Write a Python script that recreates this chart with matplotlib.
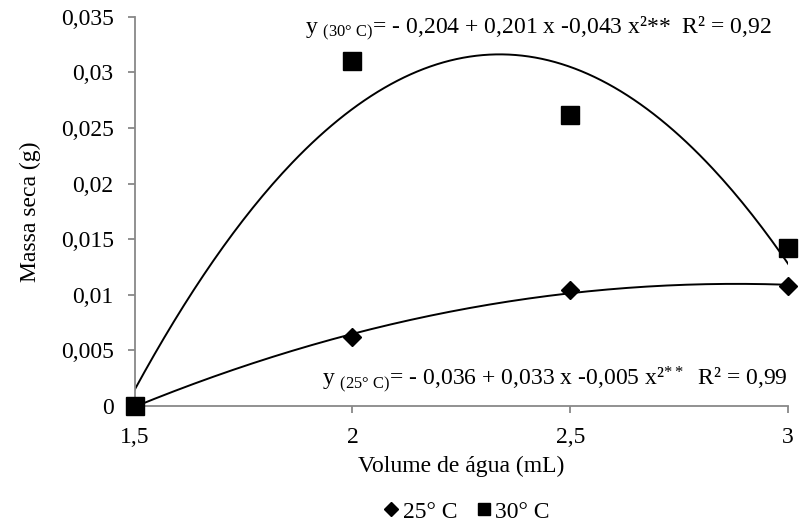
import numpy as np
import matplotlib
matplotlib.use('Agg')
import matplotlib.pyplot as plt
from matplotlib.lines import Line2D

plt.rcParams['font.family'] = ['Liberation Serif', 'DejaVu Serif']
plt.rcParams['mathtext.fontset'] = 'custom'
plt.rcParams['mathtext.rm'] = 'Liberation Serif'
plt.rcParams['mathtext.it'] = 'Liberation Serif:italic'

# Data
volume = [1.5, 2.0, 2.5, 3.0]
massa_25 = [0.0, 0.0062, 0.0104, 0.0108]
massa_30 = [0.0, 0.0310, 0.0262, 0.0142]
x_ticks = [1.5, 2.0, 2.5, 3.0]
x_labels = ['1,5', '2', '2,5', '3']
y_ticks = [0, 0.005, 0.01, 0.015, 0.02, 0.025, 0.03, 0.035]
y_labels = ['0', '0,005', '0,01', '0,015', '0,02', '0,025', '0,03', '0,035']

FS = 17

fig, ax = plt.subplots(figsize=(8.01, 5.25), dpi=100)
fig.subplots_adjust(left=0.168, right=0.984, top=0.968, bottom=0.227)

# Quadratic trend lines
xs = np.linspace(1.5, 3.0, 200)
for y in (massa_25, massa_30):
    coef = np.polyfit(volume, y, 2)
    ax.plot(xs, np.polyval(coef, xs), color='black', lw=1.4, zorder=2)

ax.plot(volume, massa_25, 'D', color='black', ms=9, zorder=3, clip_on=False)
ax.plot(volume, massa_30, 's', color='black', ms=13.5, zorder=3, clip_on=False)

ax.set_xlim(1.5, 3.0)
ax.set_ylim(0, 0.035)
ax.set_xticks(x_ticks)
ax.set_xticklabels(x_labels)
ax.set_yticks(y_ticks)
ax.set_yticklabels(y_labels)
ax.tick_params(labelsize=FS, color='#888888', length=5, width=1.3, pad=10)

for side in ['top', 'right']:
    ax.spines[side].set_visible(False)
for side in ['left', 'bottom']:
    ax.spines[side].set_color('#888888')
    ax.spines[side].set_linewidth(1.3)

ax.set_xlabel('Volume de água (mL)', fontsize=FS, labelpad=6)
ax.set_ylabel('Massa seca (g)', fontsize=FS, labelpad=14)

# Equations
ax.text(2.963, 0.0339, r'y $_{\mathrm{(30°\ C)}}$= - 0,204 + 0,201 x -0,043 x²**  R² = 0,92',
        fontsize=FS, ha='right', va='center')
ax.text(3.0, 0.0023, r'y $_{\mathrm{(25°\ C)}}$= - 0,036 + 0,033 x -0,005 x²$^{\mathrm{**}}$  R² = 0,99',
        fontsize=FS, ha='right', va='center')

handles = [Line2D([], [], marker='D', ms=7, ls='none', color='black'),
           Line2D([], [], marker='s', ms=8.5, ls='none', color='black')]
fig.legend(handles, ['25° C', '30° C'], loc='center', bbox_to_anchor=(0.583, 0.025),
           ncol=2, frameon=False, fontsize=FS, handlelength=0.6, handletextpad=0.2,
           columnspacing=0.8, borderpad=0)

fig.savefig('out.png', dpi=100)
